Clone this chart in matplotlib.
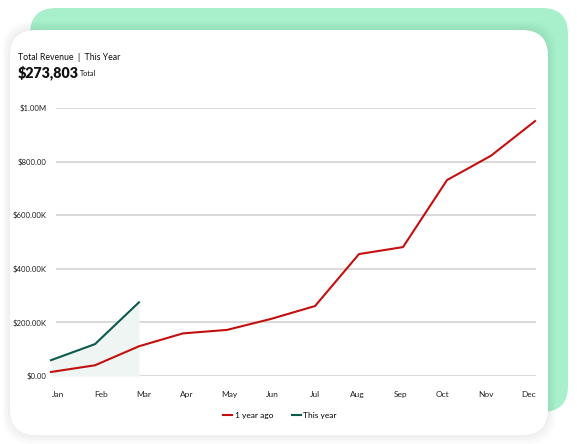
import matplotlib
matplotlib.use("Agg")
import matplotlib.pyplot as plt
from matplotlib.patches import FancyBboxPatch
import numpy as np

months = ["Jan", "Feb", "Mar", "Apr", "May", "Jun", "Jul", "Aug", "Sep", "Oct", "Nov", "Dec"]
year_ago = [15000, 40000, 111000, 159000, 172000, 213000, 261000, 455000, 481000, 731000, 822000, 951000]
this_year = [59000, 119000, 275000]
ytick_vals = [0, 200000, 400000, 600000, 800000, 1000000]
ytick_labels = ["$0.00", "$200.00K", "$400.00K", "$600.00K", "$800.00", "$1.00M"]
title = "Total Revenue  |  This Year"
total_text = "$273,803"

RED = "#c40f0f"
TEAL = "#0b5a4c"
SHADE = "#eef5f3"
MINT = "#a8f0cc"
GRID = "#d3d3d3"
FONT = "Lato"

W, H = 577, 444
fig = plt.figure(figsize=(W / 100, H / 100), dpi=100)
fig.patch.set_facecolor("white")

def fx(px):
    return px / W

def fy(py):
    return 1 - py / H

# background mint card
mint = FancyBboxPatch((fx(30), fy(412)), fx(568) - fx(30), fy(8) - fy(412),
                      boxstyle="round,pad=0,rounding_size=0.045", transform=fig.transFigure,
                      facecolor=MINT, edgecolor="none", zorder=0, mutation_aspect=W / H)
fig.patches.append(mint)
# soft shadow
for d in range(8, 0, -1):
    sh = FancyBboxPatch((fx(10 - d), fy(436 + d)), fx(548 + d) - fx(10 - d), fy(29 - d) - fy(436 + d),
                        boxstyle="round,pad=0,rounding_size=0.05", transform=fig.transFigure,
                        facecolor="black", alpha=0.006, edgecolor="none", zorder=0.5, mutation_aspect=W / H)
    fig.patches.append(sh)
card = FancyBboxPatch((fx(10), fy(435)), fx(548) - fx(10), fy(30) - fy(435),
                      boxstyle="round,pad=0,rounding_size=0.045", transform=fig.transFigure,
                      facecolor="white", edgecolor="none", zorder=1, mutation_aspect=W / H)
fig.patches.append(card)

fig.text(fx(18.5), fy(57.5), title, fontsize=6.3, family=FONT, va="center", ha="left", color="#111111", zorder=3)
fig.text(fx(18), fy(72.5), total_text, fontsize=10.3, family=FONT, fontweight="heavy",
         va="center", ha="left", color="#111111", zorder=3)
fig.text(fx(80), fy(73.5), "Total", fontsize=5.2, family=FONT, va="center", ha="left", color="#111111", zorder=3)

left, right, top, bottom = 56, 536, 108, 376
ax = fig.add_axes([fx(left), fy(bottom), fx(right) - fx(left), fy(top) - fy(bottom)])
ax.set_zorder(2)
ax.patch.set_visible(False)
spacing = 44.0
x0 = 51
ax.set_xlim((left - x0) / spacing, (right - x0) / spacing)
ax.set_ylim(0, 1000000)

xa = np.arange(len(year_ago))
xt = np.arange(len(this_year))
ax.fill_between(xt, 0, this_year, color=SHADE, lw=0, zorder=1, clip_on=False)
ax.plot(xa, year_ago, color=RED, lw=1.5, zorder=3, clip_on=False, label="1 year ago")
ax.plot(xt, this_year, color=TEAL, lw=1.5, zorder=3, clip_on=False, label="This year")

ax.set_yticks(ytick_vals)
ax.set_yticklabels(ytick_labels, fontsize=5.6, family=FONT, color="#222222")
ax.yaxis.grid(True, color=GRID, lw=1.2, zorder=0)
ax.set_axisbelow(True)
ax.tick_params(axis="y", length=0, pad=7)
ax.set_xticks([])
for s in ax.spines.values():
    s.set_visible(False)

# month labels
ax2 = ax.twiny()
ax2.patch.set_visible(False)
lab0, lab_sp = 58.6, 42.7
ax2.set_xlim((left - lab0) / lab_sp, (right - lab0) / lab_sp)
ax2.xaxis.set_ticks_position("bottom")
ax2.set_xticks(np.arange(len(months)))
ax2.set_xticklabels(months, fontsize=6, family=FONT, color="#222222")
ax2.tick_params(axis="x", length=0, pad=11)
for s in ax2.spines.values():
    s.set_visible(False)

h, l = ax.get_legend_handles_labels()
fig.legend(h, l, loc="center", bbox_to_anchor=(fx(280), fy(415)), ncol=2, frameon=False,
           prop={"family": FONT, "size": 6}, handlelength=1.1, handletextpad=0.3,
           columnspacing=2.2)

fig.savefig("out.png", dpi=100, facecolor="white")
